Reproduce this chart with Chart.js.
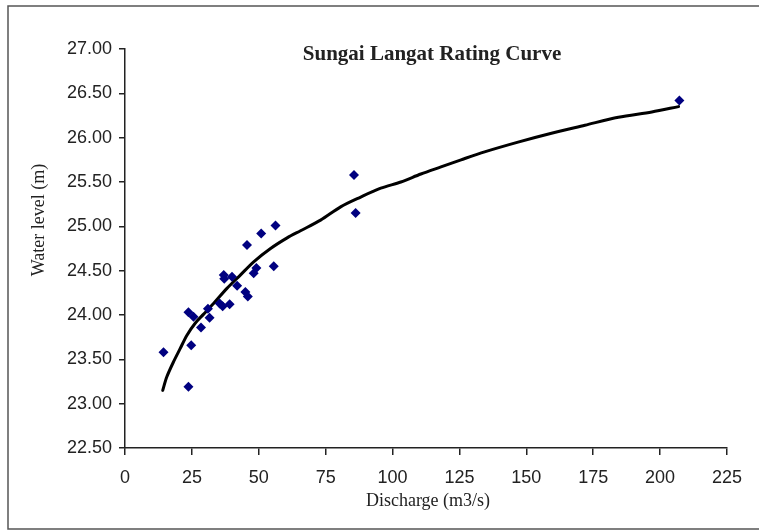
<!DOCTYPE html>
<html>
<head>
<meta charset="utf-8">
<title>Sungai Langat Rating Curve</title>
<script src="https://cdn.jsdelivr.net/npm/chart.js@4/dist/chart.umd.min.js"></script>
<style>
  html, body { margin: 0; padding: 0; background: #ffffff; }
  #wrap { width: 759px; height: 531px; position: relative; }
</style>
</head>
<body>
<div id="wrap"><canvas id="chart" width="759" height="531"></canvas></div>
<script>
// Observed gaugings: discharge (m3/s) and water level (m)
const obsDischarge = [14.4, 23.7, 24.75, 23.7, 25.6, 28.4, 31.0, 31.6, 35.4, 36.5, 36.9, 37.1, 40.0,
                      39.1, 41.9, 45.0, 45.9, 45.6, 48.1, 49.1, 50.9, 55.6, 56.25, 85.6, 86.2, 207.2];
const obsLevel     = [23.58, 23.19, 23.66, 24.03, 23.98, 23.86, 24.07, 23.97, 24.13, 24.10, 24.45, 24.41, 24.43,
                      24.12, 24.33, 24.26, 24.21, 24.79, 24.47, 24.53, 24.92, 24.55, 25.01, 25.58, 25.15, 26.42];

// Fitted rating curve
const curveDischarge = [14.1, 15.6, 18.1, 20.6, 23.1, 26.3, 29.4, 33.1, 38.1, 43.1, 48.1, 54.4, 60.6, 65.6,
                        73.1, 80.6, 88.1, 95.6, 103.1, 110.6, 118.1, 125.6, 134.4, 146.9, 159.4, 171.9,
                        184.4, 196.9, 206.9];
const curveLevel     = [23.15, 23.30, 23.47, 23.62, 23.77, 23.91, 24.01, 24.13, 24.30, 24.45, 24.60, 24.75, 24.87, 24.95,
                        25.07, 25.22, 25.33, 25.43, 25.50, 25.59, 25.67, 25.75, 25.84, 25.95, 26.05, 26.14,
                        26.23, 26.29, 26.35];

// Axis ticks
const xTickValues = [0, 25, 50, 75, 100, 125, 150, 175, 200, 225];
const yTickValues = [22.5, 23.0, 23.5, 24.0, 24.5, 25.0, 25.5, 26.0, 26.5, 27.0];

const chartTitle = 'Sungai Langat Rating Curve';
const xTitle = 'Discharge (m3/s)';
const yTitle = 'Water level (m)';

const obsPoints = obsDischarge.map((q, i) => ({ x: q, y: obsLevel[i] }));
const curvePoints = curveDischarge.map((q, i) => ({ x: q, y: curveLevel[i] }));

// Frame, chart title and axis titles drawn on the canvas
const annotations = {
  id: 'annotations',
  afterDraw(chart) {
    const ctx = chart.ctx;
    ctx.save();
    // outer frame (open on the right)
    ctx.strokeStyle = '#555555';
    ctx.lineWidth = 1.5;
    ctx.strokeRect(8, 6, 800, 523);

    ctx.fillStyle = '#222222';
    ctx.textAlign = 'center';

    // chart title
    ctx.font = 'bold 21px "Liberation Serif", "Times New Roman", serif';
    ctx.textBaseline = 'alphabetic';
    ctx.fillText(chartTitle, 432, 60);

    // x axis title
    ctx.font = '18px "Liberation Serif", "Times New Roman", serif';
    ctx.textBaseline = 'middle';
    ctx.fillText(xTitle, 428, 501);

    // y axis title
    ctx.translate(39, 220);
    ctx.rotate(-Math.PI / 2);
    ctx.fillText(yTitle, 0, 0);
    ctx.restore();
  }
};

new Chart(document.getElementById('chart'), {
  type: 'scatter',
  data: {
    datasets: [
      {
        label: 'Observed',
        data: obsPoints,
        pointStyle: 'rectRot',
        pointRadius: 5,
        pointHoverRadius: 5,
        backgroundColor: '#000080',
        borderColor: '#000080',
        borderWidth: 0,
        showLine: false
      },
      {
        label: 'Rating curve',
        data: curvePoints,
        showLine: true,
        borderColor: '#000000',
        borderWidth: 3,
        tension: 0.3,
        pointRadius: 0,
        pointHoverRadius: 0,
        borderJoinStyle: 'round',
        borderCapStyle: 'round',
        fill: false
      }
    ]
  },
  options: {
    responsive: false,
    animation: false,
    devicePixelRatio: 1,
    layout: { padding: { left: 0, top: 49, right: 32, bottom: 0 } },
    plugins: {
      legend: { display: false },
      tooltip: { enabled: false },
      title: { display: false }
    },
    scales: {
      x: {
        type: 'linear',
        min: 0,
        max: 225,
        afterBuildTicks: s => { s.ticks = xTickValues.map(v => ({ value: v })); },
        afterFit: s => { s.height = 83; },
        grid: { display: true, drawOnChartArea: false, drawTicks: true, tickLength: 7, color: '#222222', lineWidth: 1.5 },
        border: { display: true, color: '#222222', width: 1.5 },
        ticks: {
          color: '#222222',
          padding: 12,
          maxRotation: 0,
          font: { family: '"Liberation Sans", Arial, sans-serif', size: 18 },
          callback: v => String(v)
        }
      },
      y: {
        type: 'linear',
        min: 22.5,
        max: 27,
        afterBuildTicks: s => { s.ticks = yTickValues.map(v => ({ value: v })); },
        afterFit: s => { s.width = 125; },
        grid: { display: true, drawOnChartArea: false, drawTicks: true, tickLength: 6, color: '#222222', lineWidth: 1.5 },
        border: { display: true, color: '#222222', width: 1.5 },
        ticks: {
          color: '#222222',
          padding: 7,
          font: { family: '"Liberation Sans", Arial, sans-serif', size: 18 },
          callback: v => Number(v).toFixed(2)
        }
      }
    }
  },
  plugins: [annotations]
});
</script>
</body>
</html>
